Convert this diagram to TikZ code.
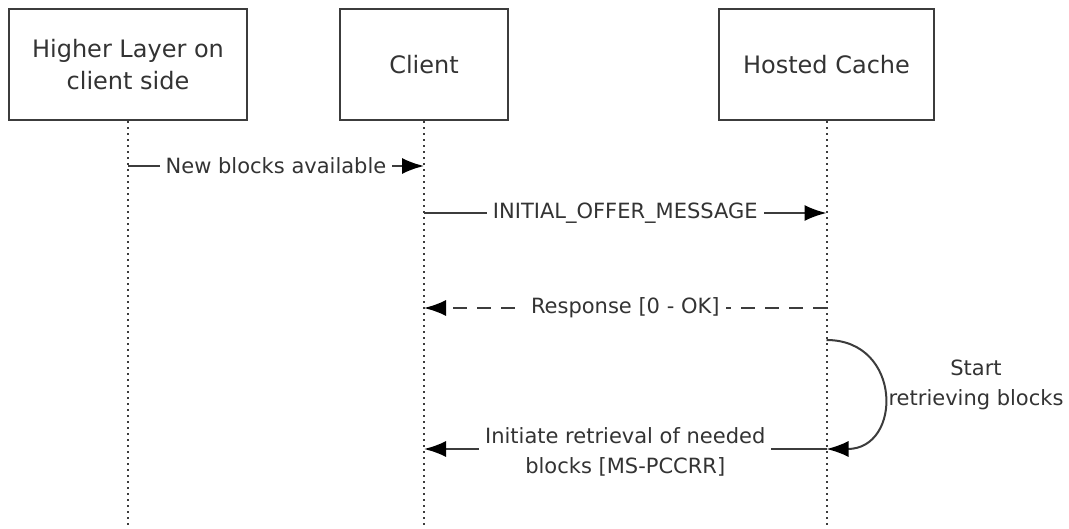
\documentclass[tikz,border=0pt]{standalone}
\usepackage{fontspec}
\setmainfont{DejaVu Sans}
\usepackage{tikz}
\usetikzlibrary{arrows.meta}
\definecolor{ink}{HTML}{333333}
\definecolor{wire}{HTML}{3C3C3C}
\tikzset{>={Latex[length=11pt,width=8pt,black]}}
\tikzset{
  actor/.style={draw=wire, line width=1.2pt, minimum height=55.5pt, align=center,
    text=ink, font=\fontsize{12}{16}\selectfont},
  lifeline/.style={wire, line width=1pt, dotted},
  msg/.style={wire, line width=1pt, ->},
  reply/.style={wire, line width=1pt, ->, dash pattern=on 7pt off 5pt},
  lbl/.style={fill=white, text=ink, inner sep=3pt, align=center,
    font=\fontsize{10.5}{15}\selectfont}
}

\begin{document}
\begin{tikzpicture}[x=0.5pt,y=-0.5pt]
    \useasboundingbox (0,0) rectangle (1069,529);
    \node[actor, minimum width=119pt] (hl) at (128,64.5) {Higher Layer on\\client side};
    \node[actor, minimum width=84pt] (cl) at (424,64.5) {Client};
    \node[actor, minimum width=107.5pt] (hc) at (826.5,64.5) {Hosted Cache};
    \coordinate (bot) at (0,529);
    \coordinate (r1) at (0,166);
    \coordinate (r2) at (0,213);
    \coordinate (r3) at (0,308);
    \coordinate (r4) at (0,340);
    \coordinate (r5) at (0,449);
    % lifelines
    \foreach \n in {hl,cl,hc}
      \draw[lifeline] (\n.south) -- (\n.south |- bot);
    % messages
    \draw[msg] (hl |- r1) -- node[lbl] {New blocks available} (cl |- r1);
    \draw[msg] (cl |- r2) -- node[lbl] {INITIAL\_OFFER\_MESSAGE} (hc |- r2);
    \draw[reply] (hc |- r3) -- node[lbl] {Response [0 - OK]} (cl |- r3);
    \draw[msg] (hc |- r4) .. controls +(76,0) and +(76,0) .. (hc |- r5);
    \node[lbl, fill=none] (start) at (976,385) {Start\\retrieving blocks};
    \draw[msg] (hc |- r5) -- node[lbl, yshift=-1.5pt] {Initiate retrieval of needed\\blocks [MS-PCCRR]} (cl |- r5);
\end{tikzpicture}
\end{document}
